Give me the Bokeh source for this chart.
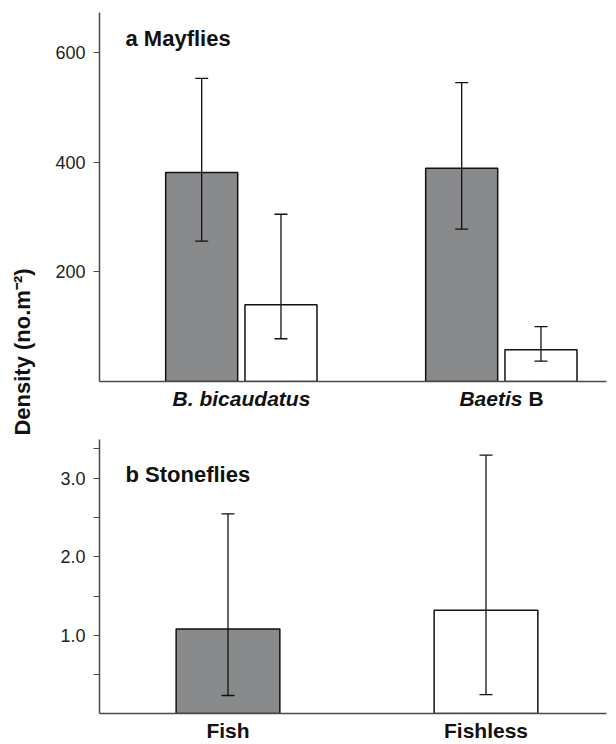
import math
from bokeh.plotting import figure
from bokeh.models import (Range1d, FixedTicker, Label, Whisker, TeeHead,
                          ColumnDataSource, NumeralTickFormatter)
from bokeh.layouts import row, column
from bokeh.embed import file_html
from bokeh.resources import INLINE

# ---------------- data ----------------
mayfly_taxa = ["B. bicaudatus", "Baetis B"]
mayfly_fish_mean = [381, 389]
mayfly_fish_upper = [553, 545]
mayfly_fish_lower = [256, 278]
mayfly_fishless_mean = [140, 58]
mayfly_fishless_upper = [305, 100]
mayfly_fishless_lower = [78, 37]
mayfly_ticks = [200, 400, 600]

stonefly_groups = ["Fish", "Fishless"]
stonefly_mean = [1.08, 1.32]
stonefly_upper = [2.55, 3.30]
stonefly_lower = [0.23, 0.24]
stonefly_ticks = [1, 2, 3]
stonefly_minor_ticks = [0.5, 1.5, 2.5, 3.38]

# ---------------- style ----------------
FONT = "Liberation Sans"
GRAY = "#898a8c"
INK = "#111111"
AXIS = "#4a4a4a"


def style(p):
    p.grid.visible = False
    p.outline_line_color = None
    p.background_fill_color = "white"
    p.border_fill_color = "white"
    ya = p.yaxis[0]
    ya.axis_line_color = AXIS
    ya.axis_line_width = 1.5
    ya.major_tick_out = 6
    ya.major_tick_in = 0
    ya.major_tick_line_color = AXIS
    ya.major_tick_line_width = 1.2
    ya.minor_tick_out = 6
    ya.minor_tick_in = 0
    ya.minor_tick_line_color = None
    ya.major_label_text_font = FONT
    ya.major_label_text_font_size = "18px"
    ya.major_label_text_color = "#222222"
    ya.major_label_standoff = 8
    xa = p.xaxis[0]
    xa.ticker = FixedTicker(ticks=[])
    xa.axis_line_color = AXIS
    xa.axis_line_width = 1.5
    xa.major_tick_line_color = None
    xa.minor_tick_line_color = None
    xa.major_tick_out = 0
    xa.major_tick_in = 0
    xa.major_label_standoff = 0
    xa.major_label_text_font_size = "0px"


def whisker(p, xs, upper, lower):
    src = ColumnDataSource(dict(base=xs, upper=upper, lower=lower))
    w = Whisker(base="base", upper="upper", lower="lower", source=src,
                line_color=INK, line_width=1.3, level="overlay",
                upper_head=TeeHead(size=13, line_color=INK, line_width=1.3),
                lower_head=TeeHead(size=13, line_color=INK, line_width=1.3))
    p.add_layout(w)


def strip(xr, h, right):
    s = figure(width=572, height=h, x_range=xr, y_range=Range1d(0, h),
               output_backend="svg", toolbar_location=None,
               min_border_left=59, min_border_right=right,
               min_border_top=0, min_border_bottom=0,
               x_axis_location=None, y_axis_location=None)
    s.grid.visible = False
    s.outline_line_color = None
    return s


def cat_label(s, x, y, text, style_, align="center", dx=0):
    s.add_layout(Label(x=x, y=y, x_offset=dx, text=text, text_font=FONT,
                       text_font_style=style_, text_font_size="21px",
                       text_color=INK, text_align=align,
                       text_baseline="alphabetic"))


# ---------------- panel a ----------------
xr1 = Range1d(-0.546, 1.404)
p1 = figure(width=572, height=388, x_range=xr1,
            y_range=Range1d(0, 673), output_backend="svg",
            toolbar_location=None, min_border_left=59, min_border_right=6,
            min_border_top=12, min_border_bottom=7)
style(p1)
p1.yaxis[0].ticker = FixedTicker(ticks=mayfly_ticks)

x_fish = [i - 0.153 for i in range(len(mayfly_taxa))]
x_fishless = [i + 0.152 for i in range(len(mayfly_taxa))]
p1.vbar(x=x_fish, width=0.277, bottom=0, top=mayfly_fish_mean,
        fill_color=GRAY, line_color=INK, line_width=1.5)
p1.vbar(x=x_fishless, width=0.277, bottom=0, top=mayfly_fishless_mean,
        fill_color="white", line_color=INK, line_width=1.5)
whisker(p1, x_fish, mayfly_fish_upper, mayfly_fish_lower)
whisker(p1, x_fishless, mayfly_fishless_upper, mayfly_fishless_lower)

p1.add_layout(Label(x=-0.546, y=673, x_offset=26, y_offset=-26,
                    text="a Mayflies", text_font=FONT, text_font_style="bold",
                    text_font_size="22px", text_color=INK,
                    text_baseline="alphabetic"))

s1 = strip(xr1, 42, 6)
cat_label(s1, 0, 32, mayfly_taxa[0], "bold italic")
cat_label(s1, 1, 32, "Baetis", "bold italic", align="right", dx=21)
cat_label(s1, 1, 32, "B", "bold", align="left", dx=27)

# ---------------- panel b ----------------
xr2 = Range1d(-0.498, 1.467)
p2 = figure(width=572, height=288, x_range=xr2,
            y_range=Range1d(0, 3.5), output_backend="svg",
            toolbar_location=None, min_border_left=59, min_border_right=0,
            min_border_top=9, min_border_bottom=5)
style(p2)
ya2 = p2.yaxis[0]
ya2.ticker = FixedTicker(ticks=stonefly_ticks, minor_ticks=stonefly_minor_ticks)
ya2.minor_tick_line_color = AXIS
ya2.minor_tick_line_width = 1.2
ya2.formatter = NumeralTickFormatter(format="0.0")

x_st = list(range(len(stonefly_groups)))
p2.vbar(x=x_st, width=0.402, bottom=0, top=stonefly_mean,
        fill_color=[GRAY, "white"], line_color=INK, line_width=1.5)
whisker(p2, x_st, stonefly_upper, stonefly_lower)

p2.add_layout(Label(x=-0.498, y=3.5, x_offset=26, y_offset=-35,
                    text="b Stoneflies", text_font=FONT, text_font_style="bold",
                    text_font_size="22px", text_color=INK,
                    text_baseline="alphabetic"))

s2 = strip(xr2, 25, 0)
for i, g in enumerate(stonefly_groups):
    cat_label(s2, i, 13, g, "bold")

# ---------------- shared y label ----------------
pl = figure(width=40, height=743, x_range=Range1d(0, 40), y_range=Range1d(0, 743),
            output_backend="svg", toolbar_location=None, min_border=0,
            x_axis_location=None, y_axis_location=None)
pl.grid.visible = False
pl.outline_line_color = None
pl.add_layout(Label(x=22, y=391.5, angle=math.pi / 2, text="Density (no.m\u207b\u00b2)",
                    text_font=FONT, text_font_style="bold", text_font_size="22px",
                    text_color=INK, text_align="center", text_baseline="middle"))

layout = row(pl, column(p1, s1, p2, s2))
open("out.html", "w").write(file_html(layout, INLINE))
